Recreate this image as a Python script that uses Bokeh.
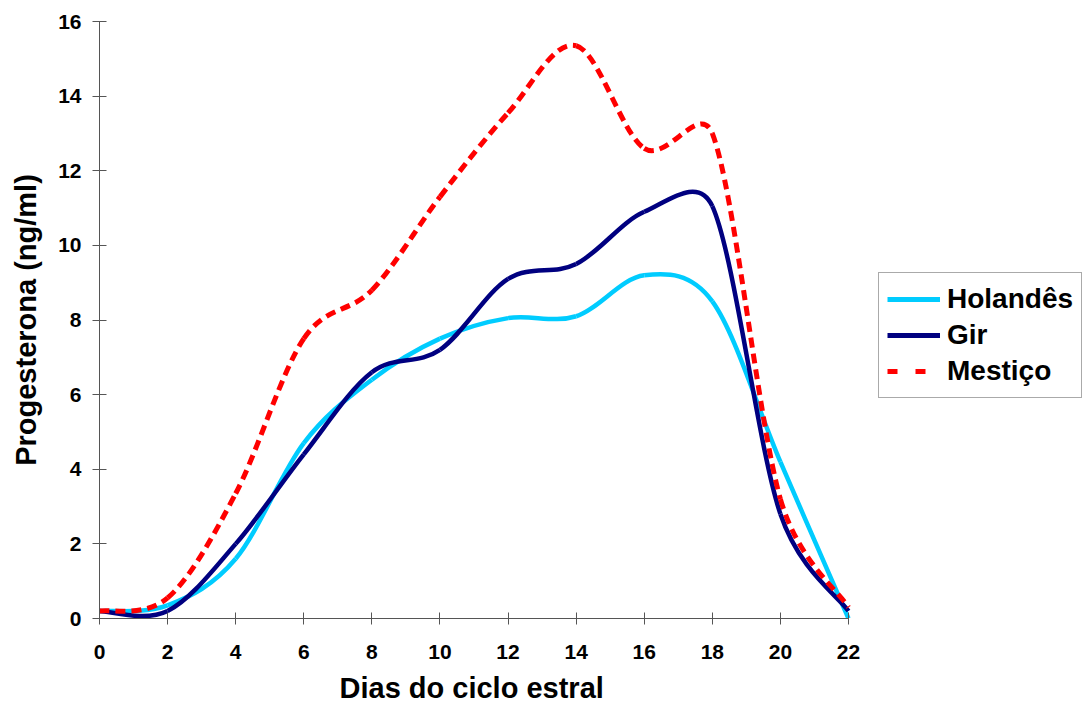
import math
from bokeh.plotting import figure
from bokeh.models import Range1d, Legend, LegendItem, FixedTicker, ColumnDataSource, Title
from bokeh.embed import file_html
from bokeh.resources import INLINE

# ---- data ----
days = [0, 2, 4, 6, 8, 10, 12, 14, 16, 18, 20, 22]
holandes = [0.2, 0.35, 1.6, 4.7, 6.4, 7.5, 8.05, 8.1, 9.2, 8.5, 4.2, 0.0]
gir = [0.2, 0.2, 2.0, 4.4, 6.6, 7.2, 9.1, 9.5, 10.9, 11.05, 2.8, 0.2]
mestico = [0.2, 0.55, 3.35, 7.5, 8.8, 11.3, 13.55, 15.35, 12.6, 13.0, 3.2, 0.3]
series_names = ["Holandês", "Gir", "Mestiço"]
x_ticks = [0, 2, 4, 6, 8, 10, 12, 14, 16, 18, 20, 22]
y_ticks = [0, 2, 4, 6, 8, 10, 12, 14, 16]
x_title = "Dias do ciclo estral"
y_title = "Progesterona (ng/ml)"

W, H = 1083, 711
ML, MT, MB = 99, 21, 92
AXW = 749                      # pixel length of the 0..22 axis
FH = H - MT - MB
X0, X1, Y0, Y1 = 0, 22, 0, 16
SX, SY = AXW / (X1 - X0), FH / (Y1 - Y0)
X_END = X0 + (W - ML) / SX     # frame extends to the right edge (room for legend)

FONT = "Liberation Sans"


def excel_smooth(xs, ys):
    """Bezier control points like Excel's smoothed line (computed in screen space)."""
    pts = [(x * SX, y * SY) for x, y in zip(xs, ys)]
    n = len(pts)
    out = dict(x0=[], y0=[], x1=[], y1=[], cx0=[], cy0=[], cx1=[], cy1=[])
    d = lambda a, b: math.hypot(a[0] - b[0], a[1] - b[1])
    for i in range(n - 1):
        p0 = pts[i - 1] if i > 0 else pts[i]
        p1, p2 = pts[i], pts[i + 1]
        p3 = pts[i + 2] if i + 2 < n else pts[i + 1]
        d02, d12, d13 = d(p0, p2), d(p1, p2), d(p1, p3)
        f1 = 1 / 6 if (d02 == 0 or d02 / 6 < d12 / 2) else d12 / (2 * d02)
        f2 = 1 / 6 if (d13 == 0 or d13 / 6 < d12 / 2) else d12 / (2 * d13)
        b1 = (p1[0] + (p2[0] - p0[0]) * f1, p1[1] + (p2[1] - p0[1]) * f1)
        b2 = (p2[0] - (p3[0] - p1[0]) * f2, p2[1] - (p3[1] - p1[1]) * f2)
        out["x0"].append(xs[i]); out["y0"].append(ys[i])
        out["x1"].append(xs[i + 1]); out["y1"].append(ys[i + 1])
        out["cx0"].append(b1[0] / SX); out["cy0"].append(b1[1] / SY)
        out["cx1"].append(b2[0] / SX); out["cy1"].append(b2[1] / SY)
    return ColumnDataSource(out)


p = figure(width=W, height=H, output_backend="svg", toolbar_location=None,
           x_range=Range1d(X0, X_END), y_range=Range1d(Y0, Y1),
           min_border_left=ML, min_border_right=0, min_border_top=MT, min_border_bottom=MB,
           background_fill_color="white", border_fill_color="white")
p.outline_line_color = None
p.grid.visible = False

styles = [
    dict(line_color="#00CCFF", line_width=4.5, line_dash="solid"),
    dict(line_color="#000080", line_width=4.5, line_dash="solid"),
    dict(line_color="#FF0000", line_width=5, line_dash="10 6"),
]
legend_styles = [
    dict(line_color="#00CCFF", line_width=5, line_dash="solid"),
    dict(line_color="#000080", line_width=5, line_dash="solid"),
    dict(line_color="#FF0000", line_width=5, line_dash="10 18"),
]
data = [holandes, gir, mestico]

items = []
for name, ys, st, lst in zip(series_names, data, styles, legend_styles):
    src = excel_smooth(days, ys)
    p.bezier(x0="x0", y0="y0", x1="x1", y1="y1", cx0="cx0", cy0="cy0",
             cx1="cx1", cy1="cy1", source=src, **st)
    dummy = p.line(x=[float("nan")], y=[float("nan")], **lst)
    items.append(LegendItem(label=name, renderers=[dummy]))

axis_color = "#555555"
for ax in (p.xaxis[0], p.yaxis[0]):
    ax.axis_line_color = axis_color
    ax.major_tick_line_color = axis_color
    ax.minor_tick_line_color = None
    ax.major_label_text_font = FONT
    ax.major_label_text_font_style = "bold"
    ax.major_label_text_font_size = "21px"
    ax.major_label_text_color = "black"
    ax.axis_label_text_font = FONT
    ax.axis_label_text_font_style = "bold"
    ax.axis_label_text_font_size = "29px"
    ax.axis_label_text_color = "black"

p.xaxis.bounds = (X0, X1)
p.xaxis.ticker = FixedTicker(ticks=x_ticks)
p.yaxis.ticker = FixedTicker(ticks=y_ticks)
p.yaxis.axis_label = y_title
p.xaxis.major_tick_in = 6
p.xaxis.major_tick_out = 6
p.xaxis.major_label_standoff = 20
p.yaxis.major_tick_in = 7
p.yaxis.major_tick_out = 7
p.yaxis.major_label_standoff = 11
p.yaxis.axis_label_standoff = 13

# x-axis title centred under the 0..22 axis (frame is wider because of the legend)
xt = Title(text=x_title, align="left", offset=240, standoff=16,
           text_font=FONT, text_font_style="bold", text_font_size="29px",
           text_color="black")
p.add_layout(xt, "below")

legend = Legend(items=items, location=(779, 220),
                label_text_font=FONT, label_text_font_style="bold",
                label_text_font_size="28px", label_text_color="black",
                glyph_width=53, glyph_height=36, label_height=36,
                label_standoff=7, padding=8, spacing=0, margin=0,
                border_line_color=axis_color, border_line_width=1,
                background_fill_color="white", background_fill_alpha=1.0)
p.add_layout(legend, "center")

open("out.html", "w").write(file_html(p, INLINE))
